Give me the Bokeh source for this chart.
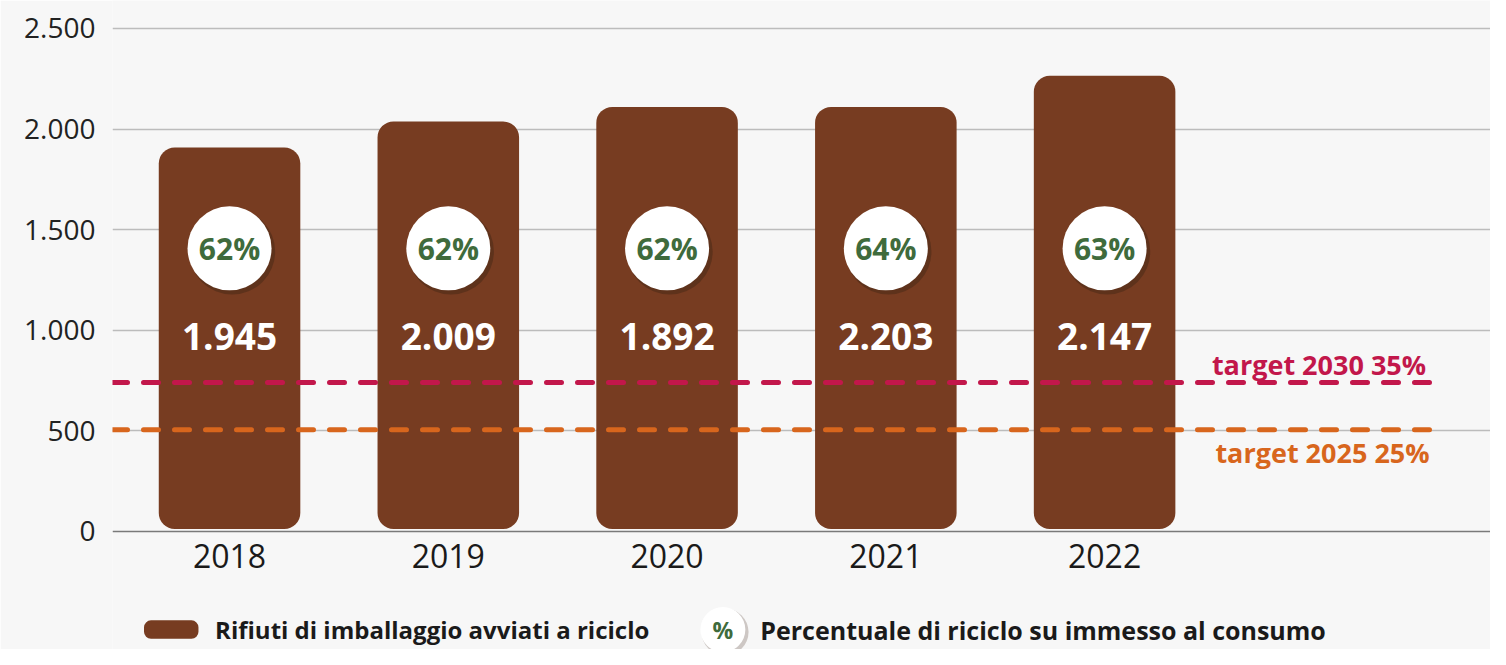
from bokeh.plotting import figure
from bokeh.models import FixedTicker, Range1d
from bokeh.core.properties import value
from bokeh.embed import file_html
from bokeh.resources import INLINE

# ---- data ----
years = ["2018", "2019", "2020", "2021", "2022"]
bar_heights = [1908, 2038, 2110, 2110, 2265]          # bar tops as drawn
value_labels = ["1.945", "2.009", "1.892", "2.203", "2.147"]
pct_labels = ["62%", "62%", "62%", "64%", "63%"]
y_ticks = [0, 500, 1000, 1500, 2000, 2500]
y_tick_labels = ["0", "500", "1.000", "1.500", "2.000", "2.500"]
target_2030 = 740
target_2025 = 505
target_2030_label = "target 2030 35%"
target_2025_label = "target 2025 25%"
legend_bar = "Rifiuti di imballaggio avviati a riciclo"
legend_pct = "Percentuale di riciclo su immesso al consumo"

BROWN = "#773c21"
MAGENTA = "#c2174b"
ORANGE = "#d8661d"
GREEN = "#3f6b3c"
BG = "#f7f7f7"
FONT = value("Open Sans")

xs = list(range(len(years)))
X0, X1 = -0.535, 5.764
Y0, Y1 = -587, 2639

p = figure(width=1490, height=649, output_backend="svg", toolbar_location=None,
           x_range=Range1d(X0, X1), y_range=Range1d(Y0, Y1),
           min_border_left=112, min_border_right=0, min_border_top=0, min_border_bottom=0)
p.background_fill_color = BG
p.border_fill_color = BG
p.outline_line_color = None
p.xaxis.visible = False
p.xgrid.visible = False

ax = p.yaxis[0]
ax.ticker = FixedTicker(ticks=y_ticks)
ax.major_label_overrides = {t: l for t, l in zip(y_ticks, y_tick_labels)}
ax.axis_line_color = None
ax.major_tick_line_color = None
ax.minor_tick_line_color = None
ax.major_tick_out = 0
ax.major_tick_in = 0
ax.major_label_standoff = 17
ax.major_label_text_font = "Open Sans"
ax.major_label_text_font_size = "28px"
ax.major_label_text_color = "#222222"

p.ygrid.ticker = FixedTicker(ticks=y_ticks[1:])
p.ygrid.grid_line_color = "#bcbcbc"
p.ygrid.grid_line_width = 1.5

# zero line
p.line([X0, X1], [0, 0], line_color="#7a7a7a", line_width=1.5)

# bars
p.vbar(x=xs, top=bar_heights, bottom=12, width=0.647, fill_color=BROWN,
       line_color=None, border_radius=16)

# target lines (on top of bars)
x_end = 5.496
p.line([X0, x_end], [target_2030, target_2030], line_color=MAGENTA, line_width=5,
       line_dash="15 16", line_cap="round")
p.line([X0, x_end], [target_2025, target_2025], line_color=ORANGE, line_width=5,
       line_dash="15 16", line_cap="round")
p.text(x=[4.98], y=[829], text=[target_2030_label], text_font=FONT, text_font_style="bold",
       text_font_size="27px", text_color=MAGENTA, text_align="center", text_baseline="middle")
p.text(x=[4.996], y=[393], text=[target_2025_label], text_font=FONT, text_font_style="bold",
       text_font_size="27px", text_color=ORANGE, text_align="center", text_baseline="middle")

# percentage circles with shadow
pct_y = 1407
dx, dy = 0.012, -16
p.scatter(x=[x + dx for x in xs], y=[pct_y + dy] * len(xs), size=86, marker="circle",
          fill_color="#3a2214", fill_alpha=0.4, line_color=None)
p.scatter(x=xs, y=[pct_y] * len(xs), size=84, marker="circle",
          fill_color="white", line_color=None)
p.text(x=xs, y=[pct_y] * len(xs), text=pct_labels, text_font=FONT, text_font_style="bold",
       text_font_size="30px", text_color=GREEN, text_align="center", text_baseline="middle")

# value labels
p.text(x=xs, y=[970] * len(xs), text=value_labels, text_font=FONT, text_font_style="bold",
       text_font_size="37px", text_color="white", text_align="center", text_baseline="middle")

# year labels
p.text(x=xs, y=[-121] * len(xs), text=years, text_font=FONT,
       text_font_size="32px", text_color="#1a1a1a", text_align="center", text_baseline="middle")

# legend
leg_y = -488
p.quad(left=[-0.391], right=[-0.142], top=[leg_y + 46], bottom=[leg_y - 46], fill_color=BROWN,
       line_color=None, border_radius=7)
p.text(x=[-0.066], y=[leg_y], text=[legend_bar], text_font=FONT, text_font_style="bold",
       text_font_size="24px", text_color="#1a1a1a", text_align="left", text_baseline="middle")
p.scatter(x=[2.255 + 0.01], y=[leg_y - 12], size=47, marker="circle",
          fill_color="#3a2214", fill_alpha=0.22, line_color=None)
p.scatter(x=[2.255], y=[leg_y], size=45, marker="circle", fill_color="white", line_color=None)
p.text(x=[2.255], y=[leg_y], text=["%"], text_font=FONT, text_font_style="bold",
       text_font_size="23px", text_color=GREEN, text_align="center", text_baseline="middle")
p.text(x=[2.426], y=[leg_y], text=[legend_pct], text_font=FONT, text_font_style="bold",
       text_font_size="25px", text_color="#1a1a1a", text_align="left", text_baseline="middle")

open("out.html", "w").write(file_html(p, INLINE))
